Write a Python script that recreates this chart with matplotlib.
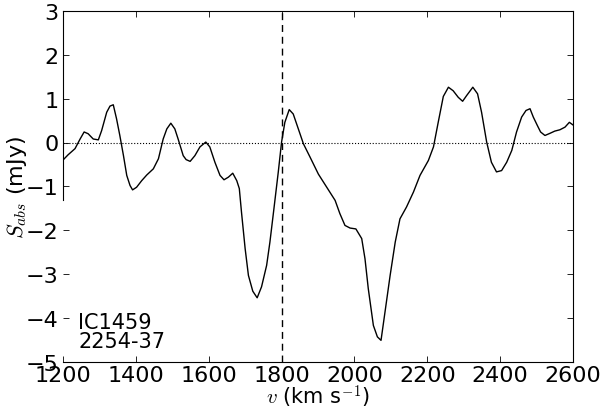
import matplotlib
matplotlib.use("Agg")
import matplotlib.pyplot as plt
import numpy as np

# velocity (km/s) and absorption flux (mJy)
vel = [1200, 1214, 1233, 1247, 1258, 1269, 1283, 1297, 1306, 1320, 1329, 1338,
       1347, 1356, 1366, 1375, 1384, 1391, 1402, 1416, 1430, 1448, 1462, 1475,
       1485, 1496, 1507, 1516, 1530, 1538, 1549, 1562, 1576, 1592, 1603, 1617,
       1631, 1642, 1654, 1666, 1677, 1684, 1690, 1700, 1709, 1721, 1733, 1745,
       1759, 1768, 1779, 1791, 1800, 1809, 1821, 1832, 1846, 1860, 1878, 1901,
       1924, 1947, 1960, 1974, 1988, 2004, 2020, 2029, 2038, 2052, 2063, 2073,
       2084, 2098, 2112, 2125, 2143, 2162, 2180, 2203, 2217, 2230, 2244, 2258,
       2271, 2285, 2297, 2308, 2325, 2338, 2349, 2363, 2376, 2390, 2404, 2418,
       2432, 2445, 2459, 2471, 2482, 2491, 2502, 2511, 2523, 2537, 2550, 2564,
       2578, 2590, 2600]
flux = [-0.40, -0.28, -0.14, 0.08, 0.24, 0.20, 0.08, 0.06, 0.27, 0.69, 0.83, 0.86,
        0.54, 0.16, -0.30, -0.75, -0.98, -1.08, -1.02, -0.87, -0.74, -0.60, -0.37, 0.08,
        0.31, 0.44, 0.31, 0.08, -0.30, -0.39, -0.43, -0.30, -0.10, 0.01, -0.10, -0.45,
        -0.75, -0.85, -0.79, -0.70, -0.87, -1.05, -1.59, -2.42, -3.03, -3.39, -3.54, -3.29,
        -2.80, -2.27, -1.51, -0.67, 0.01, 0.46, 0.75, 0.65, 0.31, -0.03, -0.33, -0.72,
        -1.02, -1.32, -1.62, -1.89, -1.95, -1.97, -2.19, -2.65, -3.33, -4.17, -4.43, -4.51,
        -3.86, -3.03, -2.27, -1.74, -1.47, -1.13, -0.75, -0.41, -0.10, 0.46, 1.05, 1.26,
        1.18, 1.03, 0.94, 1.07, 1.26, 1.11, 0.69, 0.01, -0.45, -0.67, -0.64, -0.45,
        -0.18, 0.24, 0.58, 0.73, 0.77, 0.58, 0.39, 0.24, 0.16, 0.21, 0.26, 0.29,
        0.35, 0.46, 0.40]

v_sys = 1800
label_text = "IC1459\n2254-37"

plt.rcParams['mathtext.fontset'] = 'cm'
plt.rcParams['xtick.direction'] = 'in'
plt.rcParams['ytick.direction'] = 'in'
plt.rcParams['xtick.top'] = True
plt.rcParams['ytick.right'] = True

fig = plt.figure(figsize=(6, 4.1), dpi=100)
ax = fig.add_axes([0.105, 0.115, 0.85, 0.856])

ax.plot(vel, flux, color='black', lw=1.0)
ax.axhline(0, color='black', lw=0.8, ls=':')
ax.axvline(v_sys, color='black', lw=1.0, ls='--', dashes=(5, 3.5))

ax.set_xlim(1200, 2600)
ax.set_ylim(-5, 3)
ax.set_xticks(np.arange(1200, 2601, 200))
ax.set_yticks(np.arange(-5, 4, 1))
ax.tick_params(labelsize=16, length=4, width=0.6)
ax.tick_params(axis='x', pad=2)
ax.tick_params(axis='y', pad=3)
# left spine is only drawn over the upper part, as in the original
ax.spines['left'].set_bounds(-1.3, 3)

ax.set_xlabel(r'$v$ (km s$^{-1}$)', fontsize=15)
ax.xaxis.set_label_coords(0.5, -0.06)
ax.set_ylabel(r'$S_{abs}$ (mJy)', fontsize=16)
ax.yaxis.set_label_coords(-0.066, 0.5)

ax.text(0.03, 0.03, label_text, transform=ax.transAxes, fontsize=15,
        ha='left', va='bottom', linespacing=0.95)

fig.savefig('out.png', dpi=100, facecolor='white')
